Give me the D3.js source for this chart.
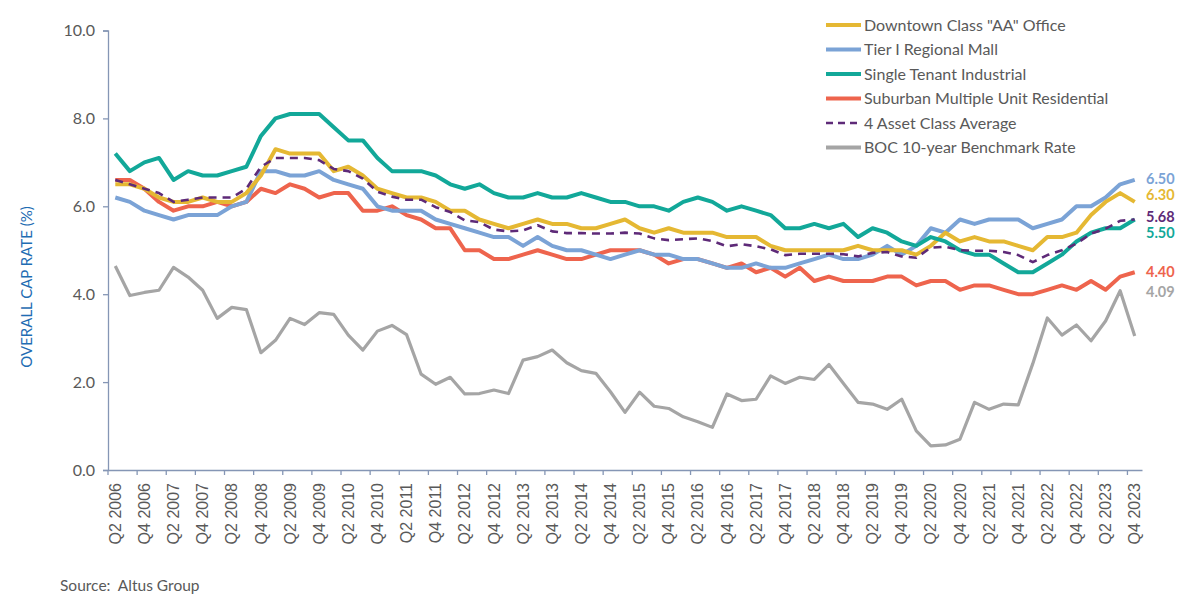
<!DOCTYPE html>
<html><head><meta charset="utf-8">
<script src="https://cdn.jsdelivr.net/npm/d3@7/dist/d3.min.js"></script>
<style>
html,body{margin:0;padding:0;background:#fff;}
svg{display:block;}
</style></head>
<body>
<svg id="chart" width="1195" height="602"></svg>
<script>
const quarters = [
"Q2 2006","Q3 2006","Q4 2006","Q1 2007","Q2 2007","Q3 2007","Q4 2007","Q1 2008","Q2 2008","Q3 2008","Q4 2008",
"Q1 2009","Q2 2009","Q3 2009","Q4 2009","Q1 2010","Q2 2010","Q3 2010","Q4 2010","Q1 2011","Q2 2011","Q3 2011","Q4 2011",
"Q1 2012","Q2 2012","Q3 2012","Q4 2012","Q1 2013","Q2 2013","Q3 2013","Q4 2013","Q1 2014","Q2 2014","Q3 2014","Q4 2014",
"Q1 2015","Q2 2015","Q3 2015","Q4 2015","Q1 2016","Q2 2016","Q3 2016","Q4 2016","Q1 2017","Q2 2017","Q3 2017","Q4 2017",
"Q1 2018","Q2 2018","Q3 2018","Q4 2018","Q1 2019","Q2 2019","Q3 2019","Q4 2019","Q1 2020","Q2 2020","Q3 2020","Q4 2020",
"Q1 2021","Q2 2021","Q3 2021","Q4 2021","Q1 2022","Q2 2022","Q3 2022","Q4 2022","Q1 2023","Q2 2023","Q3 2023","Q4 2023"];

const tickLabels = quarters.filter(q => q.startsWith("Q2") || q.startsWith("Q4"));

const office = [6.5,6.5,6.4,6.2,6.1,6.1,6.2,6.1,6.1,6.3,6.7,7.3,7.2,7.2,7.2,6.8,6.9,6.7,6.4,6.3,6.2,6.2,6.1,5.9,5.9,5.7,5.6,5.5,5.6,5.7,5.6,5.6,5.5,5.5,5.6,5.7,5.5,5.4,5.5,5.4,5.4,5.4,5.3,5.3,5.3,5.1,5.0,5.0,5.0,5.0,5.0,5.1,5.0,5.0,5.0,4.9,5.1,5.4,5.2,5.3,5.2,5.2,5.1,5.0,5.3,5.3,5.4,5.8,6.1,6.3,6.1];
const mall = [6.2,6.1,5.9,5.8,5.7,5.8,5.8,5.8,6.0,6.1,6.8,6.8,6.7,6.7,6.8,6.6,6.5,6.4,6.0,5.9,5.9,5.9,5.7,5.6,5.5,5.4,5.3,5.3,5.1,5.3,5.1,5.0,5.0,4.9,4.8,4.9,5.0,4.9,4.9,4.8,4.8,4.7,4.6,4.6,4.7,4.6,4.6,4.7,4.8,4.9,4.8,4.8,4.9,5.1,4.9,5.1,5.5,5.4,5.7,5.6,5.7,5.7,5.7,5.5,5.6,5.7,6.0,6.0,6.2,6.5,6.6];
const industrial = [7.2,6.8,7.0,7.1,6.6,6.8,6.7,6.7,6.8,6.9,7.6,8.0,8.1,8.1,8.1,7.8,7.5,7.5,7.1,6.8,6.8,6.8,6.7,6.5,6.4,6.5,6.3,6.2,6.2,6.3,6.2,6.2,6.3,6.2,6.1,6.1,6.0,6.0,5.9,6.1,6.2,6.1,5.9,6.0,5.9,5.8,5.5,5.5,5.6,5.5,5.6,5.3,5.5,5.4,5.2,5.1,5.3,5.2,5.0,4.9,4.9,4.7,4.5,4.5,4.7,4.9,5.2,5.4,5.5,5.5,5.7];
const residential = [6.6,6.6,6.4,6.1,5.9,6.0,6.0,6.1,6.0,6.1,6.4,6.3,6.5,6.4,6.2,6.3,6.3,5.9,5.9,6.0,5.8,5.7,5.5,5.5,5.0,5.0,4.8,4.8,4.9,5.0,4.9,4.8,4.8,4.9,5.0,5.0,5.0,4.9,4.7,4.8,4.8,4.7,4.6,4.7,4.5,4.6,4.4,4.6,4.3,4.4,4.3,4.3,4.3,4.4,4.4,4.2,4.3,4.3,4.1,4.2,4.2,4.1,4.0,4.0,4.1,4.2,4.1,4.3,4.1,4.4,4.5];
const average = [6.6,6.5,6.4,6.3,6.1,6.15,6.2,6.2,6.2,6.4,6.9,7.1,7.1,7.1,7.05,6.85,6.8,6.63,6.33,6.22,6.15,6.15,5.98,5.87,5.68,5.64,5.47,5.43,5.45,5.57,5.43,5.39,5.39,5.38,5.38,5.4,5.38,5.27,5.23,5.25,5.27,5.21,5.09,5.14,5.09,5.02,4.89,4.92,4.92,4.92,4.91,4.86,4.94,4.96,4.86,4.83,5.06,5.08,5.0,4.99,4.99,4.96,4.89,4.73,4.89,5.0,5.15,5.38,5.49,5.67,5.7];
const boc = [4.64,3.97,4.04,4.09,4.61,4.39,4.09,3.45,3.70,3.65,2.67,2.95,3.45,3.31,3.58,3.54,3.07,2.73,3.16,3.29,3.08,2.18,1.95,2.11,1.73,1.74,1.82,1.74,2.50,2.58,2.73,2.44,2.26,2.20,1.78,1.31,1.77,1.45,1.40,1.21,1.10,0.97,1.73,1.58,1.61,2.14,1.97,2.11,2.06,2.40,1.97,1.54,1.50,1.38,1.61,0.89,0.55,0.57,0.70,1.54,1.38,1.50,1.48,2.42,3.46,3.07,3.30,2.94,3.39,4.08,3.05];

const seriesNames = ['Downtown Class "AA" Office','Tier I Regional Mall','Single Tenant Industrial','Suburban Multiple Unit Residential','4 Asset Class Average','BOC 10-year Benchmark Rate'];
const endLabelText = ["6.30","6.50","5.50","4.40","5.68","4.09"];
const endLabelAt = [6.25,6.63,5.40,4.50,5.76,4.06];
const yTicks = [0,2,4,6,8,10];

const colors = ["#E5B833","#7BA3D6","#12A899","#EE644D","#5E2A78","#A5A5A5"];
const widths = [4,4,4,4,2.6,3.2];
const dashes = [null,null,null,null,"8,6",null];
const values = [office, mall, industrial, residential, average, boc];
const drawOrder = [5,3,1,0,2,4];

const svg = d3.select("#chart");
const mLeft = 108, mRight = 1142, mTop = 30.5, mBottom = 470;
const x = d3.scaleBand().domain(quarters).range([mLeft, mRight]).padding(0);
const y = d3.scaleLinear().domain([0,10]).range([mBottom, mTop]);
const cx = q => x(q) + x.bandwidth()/2;
const axisColor = "#8596B5";
const textColor = "#595959";

// Y axis
const yAxis = svg.append("g").attr("transform", `translate(${mLeft},0)`)
  .call(d3.axisLeft(y).tickValues(yTicks).tickFormat(d3.format(".1f")).tickSize(5).tickPadding(8));
yAxis.select(".domain").attr("stroke", axisColor).attr("stroke-width", 1.3);
yAxis.selectAll(".tick line").attr("stroke", axisColor).attr("stroke-width", 1.3);
yAxis.selectAll(".tick text").attr("fill", textColor).style("font-family","Lato").style("font-size","16px");

// X axis
const xAxis = svg.append("g").attr("transform", `translate(0,${mBottom})`)
  .call(d3.axisBottom(x).tickValues(tickLabels).tickSize(0).tickPadding(0));
xAxis.select(".domain").attr("stroke", axisColor).attr("stroke-width", 1.3);
xAxis.selectAll(".tick text")
  .attr("transform", "rotate(-90)")
  .attr("x", -13).attr("y", 0).attr("dy", "0.35em")
  .attr("text-anchor", "end")
  .attr("fill", textColor)
  .style("font-family", "'Liberation Sans', Arial, sans-serif")
  .style("font-size", "16px");
xAxis.selectAll(".tickmark").data(tickLabels).enter().append("line")
  .attr("class","tickmark")
  .attr("x1", d => x(d)).attr("x2", d => x(d)).attr("y1", 0).attr("y2", 5)
  .attr("stroke", axisColor).attr("stroke-width", 1.3);

// Lines
const line = d3.line().x((d,i) => cx(quarters[i])).y(d => y(d));
drawOrder.forEach(k => {
  svg.append("path").datum(values[k])
    .attr("d", line).attr("fill","none")
    .attr("stroke", colors[k]).attr("stroke-width", widths[k])
    .attr("stroke-linejoin","round")
    .attr("stroke-dasharray", dashes[k]);
});

// End labels
endLabelText.forEach((t,k) => {
  svg.append("text").attr("x", 1146).attr("y", y(endLabelAt[k])).attr("dy","0.35em")
    .attr("fill", colors[k]).style("font-family","Lato").style("font-weight","bold").style("font-size","14.5px")
    .text(t);
});

// Legend
const lg = svg.append("g").attr("transform","translate(826,25)");
seriesNames.forEach((n,k) => {
  const g = lg.append("g").attr("transform", `translate(0,${k*24.5})`);
  g.append("line").attr("x1",0).attr("x2",35).attr("y1",0).attr("y2",0)
    .attr("stroke", colors[k]).attr("stroke-width", k===4 ? 2.6 : 4)
    .attr("stroke-dasharray", k===4 ? "7,5" : null);
  g.append("text").attr("x",38).attr("y",0).attr("dy","0.35em")
    .attr("fill", textColor).style("font-family","Lato").style("font-size","16px").text(n);
});

// Y title
svg.append("text").attr("transform","translate(27,287) rotate(-90)")
  .attr("text-anchor","middle").attr("dy","0.35em")
  .attr("fill","#1F6DB3").style("font-family","Lato").style("font-size","15px")
  .text("OVERALL CAP RATE (%)");

// Source
svg.append("text").attr("x",60).attr("y",586).attr("dy","0.35em")
  .attr("fill", textColor).style("font-family","Lato").style("font-size","15.5px")
  .style("white-space","pre").attr("xml:space","preserve")
  .text("Source:  Altus Group");
</script>
</body></html>
